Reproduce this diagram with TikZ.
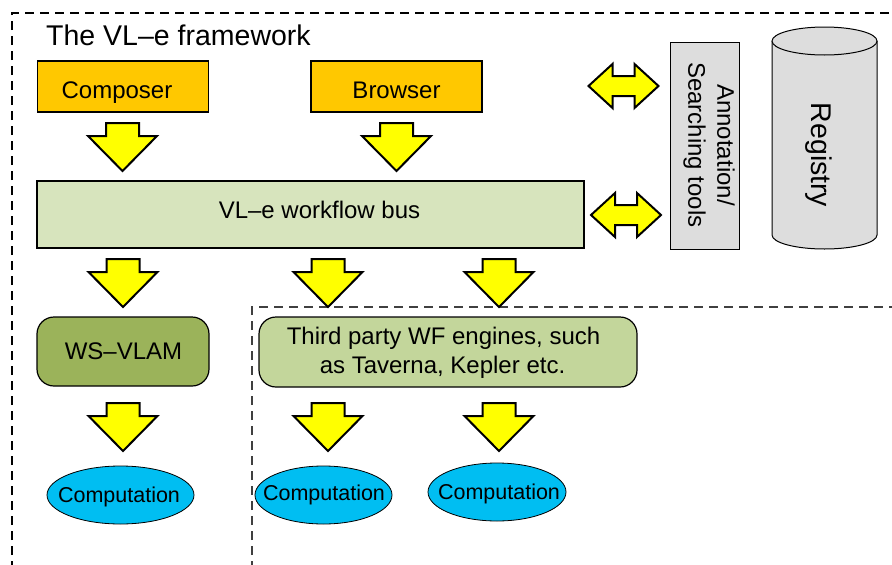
\documentclass[tikz,border=0pt]{standalone}
\usepackage{fontspec}
\setmainfont{Liberation Sans}
\usetikzlibrary{shapes.geometric}

\definecolor{boxorange}{HTML}{FFC800}
\definecolor{busgreen}{HTML}{D7E4BD}
\definecolor{wsgreen}{HTML}{9BB35A}
\definecolor{tpgreen}{HTML}{C3D69B}
\definecolor{compblue}{HTML}{00BEF2}
\definecolor{arrowyellow}{HTML}{FFFF00}
\definecolor{toolgray}{HTML}{DDDDDD}
\definecolor{framegray}{HTML}{404040}

\tikzset{
  plainbox/.style={draw=black, line width=1.2pt, inner sep=0pt, rectangle},
  orangebox/.style={plainbox, fill=boxorange, minimum width=171pt, minimum height=51pt},
  roundbox/.style={plainbox, rounded corners=17pt},
  compnode/.style={ellipse, draw=black, line width=0.8pt, fill=compblue, inner sep=0pt, minimum height=58pt},
  lbl/.style={inner sep=0pt, font=\fontsize{24}{29}\selectfont},
  smalllbl/.style={inner sep=0pt, font=\fontsize{21.5}{26}\selectfont},
  biglbl/.style={inner sep=0pt, font=\fontsize{28.5}{34}\selectfont},
  blockarrow/.style={draw=black, line width=2pt, fill=arrowyellow, line join=miter},
  framestyle/.style={line width=1.3pt, dash pattern=on 9pt off 6pt},
  pics/downarrow/.style={code={
    \draw[blockarrow] (-16.5,0) -- (16.5,0) -- (16.5,13) -- (34.5,13) -- (0,48)
      -- (-34.5,13) -- (-16.5,13) -- cycle;}},
  pics/bothways/.style={code={
    \draw[blockarrow] (-35,0) -- (-11,-22) -- (-11,-10) -- (11,-10) -- (11,-22) -- (35,0)
      -- (11,22) -- (11,10) -- (-11,10) -- (-11,22) -- cycle;}},
}

\begin{document}
\begin{tikzpicture}[x=1pt,y=-1pt]
\useasboundingbox (0,0) rectangle (892,565);
\clip (0,0) rectangle (892,565);
\fill[white] (0,0) rectangle (892,565);

% framework frame and third-party frame (open towards the page edges)
\draw[framestyle, black] (12,600) -- (12,13) -- (900,13);
\draw[framestyle, framegray] (252,600) -- (252,307) -- (900,307);

\node[biglbl, anchor=base west] (title) at (46,45) {The VL–e framework};

% top row
\node[orangebox] (composer) at (123,86.5) {};
\node[lbl, anchor=base] (composerlbl) at (117,98) {Composer};
\node[orangebox] (browser) at (396.5,86.5) {};
\node[lbl, anchor=base] (browserlbl) at (396.5,98) {Browser};

% workflow bus
\node[plainbox, fill=busgreen, minimum width=547pt, minimum height=67pt] (bus) at (310.5,214.5) {};
\node[lbl, anchor=base] (buslbl) at (319.5,218) {VL–e workflow bus};

% annotation tools and registry
\node[plainbox, fill=toolgray, line width=1pt, minimum width=69pt, minimum height=207pt] (tools) at (704.5,145.5) {};
\node[lbl, rotate=-90, align=center] (toolslbl) at (709,145) {Annotation/\\Searching tools};

\fill[toolgray] (772,41) rectangle (877,235);
\fill[toolgray] (824.5,235) ellipse[x radius=52.5pt, y radius=14pt];
\draw[line width=1pt] (772,41) -- (772,235) arc[start angle=180, end angle=360, x radius=52.5pt, y radius=14pt] -- (877,41);
\draw[line width=1pt, fill=toolgray] (824.5,41) ellipse[x radius=52.5pt, y radius=14pt];
\node[inner sep=0pt, minimum width=105pt, minimum height=222pt] (registry) at (824.5,138) {};
\node[biglbl, rotate=-90] (registrylbl) at (819,155) {Registry};

% engines
\node[roundbox, fill=wsgreen, minimum width=172pt, minimum height=69pt] (wsvlam) at (123,351.5) {};
\node[lbl, anchor=base] (wsvlamlbl) at (123.5,359) {WS–VLAM};
\node[roundbox, fill=tpgreen, minimum width=378pt, minimum height=70pt] (thirdparty) at (448,352) {};
\node[lbl, anchor=base] (tplbl1) at (443.5,344) {Third party WF engines, such};
\node[lbl, anchor=base] (tplbl2) at (442.5,373) {as Taverna, Kepler etc.};

% computations
\node[compnode, minimum width=147pt] (comp1) at (120.5,495) {};
\node[smalllbl, anchor=base] (comp1lbl) at (119,502) {Computation};
\node[compnode, minimum width=137pt] (comp2) at (323.5,495) {};
\node[smalllbl, anchor=base] (comp2lbl) at (324,500) {Computation};
\node[compnode, minimum width=138pt] (comp3) at (497,492) {};
\node[smalllbl, anchor=base] (comp3lbl) at (499,499) {Computation};

% block arrows
\pic at (122.5,123) {downarrow};
\pic at (396.5,123) {downarrow};
\pic at (123,259) {downarrow};
\pic at (328,259) {downarrow};
\pic at (499,259) {downarrow};
\pic at (123,403) {downarrow};
\pic at (328,403) {downarrow};
\pic at (499,403) {downarrow};
\pic at (623.5,86) {bothways};
\pic at (626,215) {bothways};
\end{tikzpicture}
\end{document}
